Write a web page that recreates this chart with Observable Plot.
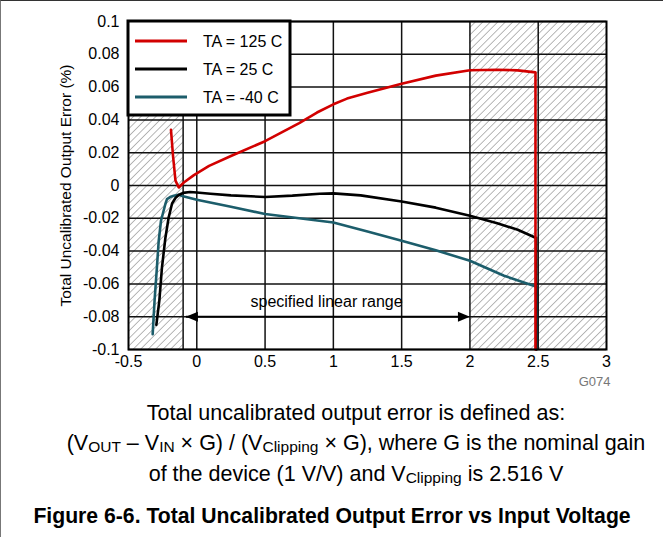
<!DOCTYPE html>
<html>
<head>
<meta charset="utf-8">
<script src="https://cdn.jsdelivr.net/npm/d3@7"></script>
<script src="https://cdn.jsdelivr.net/npm/@observablehq/plot@0.6"></script>
<style>
  html, body { margin: 0; padding: 0; background: white; }
  #wrap { position: relative; width: 663px; height: 537px; box-sizing: border-box;
          border-top: 1px solid #333; border-left: 1px solid #777; background: white;
          font-family: "Liberation Sans", Arial, sans-serif; color: #000; overflow: hidden; }
  #chart { position: absolute; left: 0; top: 0; }
  .cap { position: absolute; left: 24px; width: 662px; text-align: center; font-size: 21.5px; line-height: 30.5px; white-space: nowrap; }
  .cap sub { font-size: 15.5px; vertical-align: -2px; line-height: 0; }
  .bold { font-weight: bold; left: 0px; font-size: 21.2px; }
</style>
</head>
<body>
<div id="wrap">
  <div id="chart"></div>
  <div class="cap" style="top:396.75px">Total uncalibrated output error is defined as:</div>
  <div class="cap" style="top:427.25px">(V<sub>OUT</sub> – V<sub>IN</sub> × G) / (V<sub>Clipping</sub> × G), where G is the nominal gain</div>
  <div class="cap" style="top:457.75px">of the device (1 V/V) and V<sub>Clipping</sub> is 2.516 V</div>
  <div class="cap bold" style="top:500.4px">Figure 6-6. Total Uncalibrated Output Error vs Input Voltage</div>
</div>
<script>
// ---- data ----
const xTicks = [-0.5, 0, 0.5, 1, 1.5, 2, 2.5, 3];
const yTicks = [-0.1, -0.08, -0.06, -0.04, -0.02, 0, 0.02, 0.04, 0.06, 0.08, 0.1];
const xGrid = [-0.1, 0, 0.5, 1, 1.5, 2, 2.5];
const hatchRanges = [[-0.5, -0.1], [2, 3]];
const seriesNames = ["TA = 125 C", "TA = 25 C", "TA = -40 C"];
const seriesColors = ["#d20000", "#000000", "#1c5d6b"];

const ta125 = [[-0.189,0.034],[-0.174,0.018],[-0.156,0.003],[-0.132,-0.0012],[-0.095,0.0018],[-0.021,0.0063],
  [0.09,0.012],[0.25,0.018],[0.5,0.027],[0.75,0.038],[0.88,0.0445],[1.0,0.0495],[1.1,0.053],[1.25,0.0565],
  [1.5,0.062],[1.75,0.067],[2.0,0.0703],[2.2,0.0706],[2.35,0.0702],[2.48,0.069],[2.48,-0.1]];
const ta25 = [[-0.296,-0.085],[-0.274,-0.070],[-0.255,-0.050],[-0.23,-0.032],[-0.206,-0.0195],[-0.181,-0.011],
  [-0.155,-0.0075],[-0.132,-0.0058],[-0.1,-0.0045],[-0.05,-0.004],[0,-0.0043],[0.1,-0.005],[0.25,-0.006],
  [0.5,-0.007],[0.7,-0.0062],[0.9,-0.005],[1.0,-0.0048],[1.2,-0.006],[1.5,-0.0098],[1.75,-0.0135],
  [2.0,-0.0185],[2.2,-0.023],[2.35,-0.027],[2.485,-0.032],[2.485,-0.1]];
const taM40 = [[-0.323,-0.0906],[-0.309,-0.070],[-0.292,-0.050],[-0.279,-0.034],[-0.262,-0.0215],[-0.23,-0.0113],
  [-0.218,-0.0083],[-0.19,-0.0068],[-0.169,-0.0063],[-0.132,-0.0057],[-0.1,-0.0065],[0,-0.0087],[0.25,-0.013],
  [0.5,-0.0174],[0.75,-0.020],[1.0,-0.0226],[1.25,-0.028],[1.5,-0.0337],[1.75,-0.0395],[2.0,-0.0459],
  [2.25,-0.055],[2.488,-0.0618],[2.488,-0.1]];
const rangeLabel = "specified linear range";
const rangeEnds = [-0.08, 2.0];
const rangeY = -0.08;

// ---- chart ----
const font = '"Liberation Sans", Arial, sans-serif';
const rightArrow = { draw(ctx) { ctx.moveTo(0, 0); ctx.lineTo(-12, -5); ctx.lineTo(-12, 5); ctx.closePath(); } };
const arrowEnds = [{x: rangeEnds[0], rot: 180}, {x: rangeEnds[1], rot: 0}];

const plot = Plot.plot({
  width: 662, height: 392,
  marginLeft: 127, marginRight: 57, marginTop: 20, marginBottom: 44,
  style: { fontFamily: font, fontSize: "16px", background: "white", color: "black", overflow: "visible" },
  x: { domain: [-0.5, 3], ticks: xTicks, tickFormat: d => String(d), tickSize: 0, tickPadding: 6, label: null },
  y: { domain: [-0.1, 0.1], ticks: yTicks, tickFormat: d => String(+d.toFixed(2)), tickSize: 0, tickPadding: 9, label: null },
  marks: [
    Plot.rect(hatchRanges, { x1: d => d[0], x2: d => d[1], y1: -0.1, y2: 0.1, fill: "url(#hatch)" }),
    Plot.ruleY(yTicks, { stroke: "#111", strokeWidth: 1.5 }),
    Plot.ruleX(xGrid, { stroke: "#111", strokeWidth: 1.5 }),
    Plot.link([rangeEnds], { x1: d => d[0], x2: d => d[1] - 0.05, y1: rangeY, y2: rangeY, stroke: "black", strokeWidth: 2 }),
    Plot.dot(arrowEnds, { x: "x", y: rangeY, symbol: rightArrow, rotate: "rot", fill: "black", stroke: "none" }),
    Plot.text([rangeLabel], { x: (rangeEnds[0] + rangeEnds[1]) / 2 - 0.01, y: rangeY, dy: -15, text: d => d, fontSize: 16 }),
    Plot.line(taM40, { x: d => d[0], y: d => d[1], stroke: seriesColors[2], strokeWidth: 2.6 }),
    Plot.line(ta25, { x: d => d[0], y: d => d[1], stroke: seriesColors[1], strokeWidth: 2.6 }),
    Plot.line(ta125, { x: d => d[0], y: d => d[1], stroke: seriesColors[0], strokeWidth: 2.6 }),
    Plot.frame({ stroke: "black", strokeWidth: 2 }),
    Plot.text(["Total Uncalibrated Output Error (%)"], { frameAnchor: "left", textAnchor: "middle", dx: -62, rotate: -90, text: d => d, fontSize: 15.5 }),
    Plot.text(["G074"], { frameAnchor: "bottom-right", dx: 4, dy: 36, text: d => d, fontSize: 13, fill: "#777" })
  ]
});

const svg = d3.select(plot);
const defs = svg.insert("defs", ":first-child");
const pat = defs.append("pattern").attr("id", "hatch").attr("patternUnits", "userSpaceOnUse")
  .attr("width", 5.3).attr("height", 5.3).attr("patternTransform", "rotate(45)");
pat.append("line").attr("x1", 0).attr("y1", 0).attr("x2", 0).attr("y2", 5.3)
  .attr("stroke", "#9a9a9a").attr("stroke-width", 1.4);

// legend
const lg = svg.append("g").attr("text-anchor", "start");
lg.append("rect").attr("x", 127).attr("y", 20).attr("width", 162).attr("height", 94)
  .attr("fill", "white").attr("stroke", "black").attr("stroke-width", 3);
seriesNames.forEach((name, i) => {
  const y = 40 + i * 28;
  lg.append("line").attr("x1", 134).attr("x2", 186).attr("y1", y).attr("y2", y)
    .attr("stroke", seriesColors[i]).attr("stroke-width", 3);
  lg.append("text").attr("x", 202).attr("y", y).attr("dy", "0.35em").attr("text-anchor", "start")
    .attr("font-size", 16).attr("font-family", font).text(name);
});

document.getElementById("chart").appendChild(plot);
</script>
</body>
</html>
